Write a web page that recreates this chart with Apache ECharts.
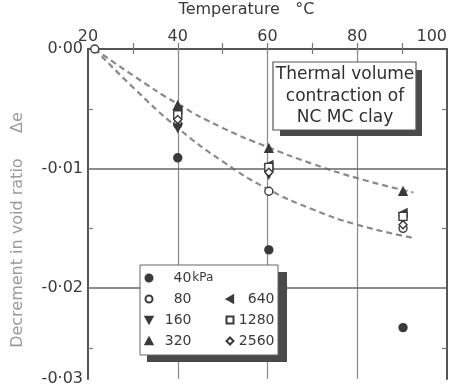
<!DOCTYPE html>
<html>
<head>
<meta charset="utf-8">
<script src="https://cdn.jsdelivr.net/npm/echarts@6/dist/echarts.min.js"></script>
<style>
html,body{margin:0;padding:0;background:#fff;}
#c{width:453px;height:387px;}
</style>
</head>
<body>
<div id="c"></div>
<script>
// ---- data ----
const pressures = ['40', '80', '160', '320', '640', '1280', '2560'];
const temps = [40, 60.3, 90.2];
const de40 = [-0.0091, -0.0168, -0.0233];
const de80 = [-0.0063, -0.0119, -0.0150];
const de160 = [-0.0066, -0.0105, -0.0143];
const de320 = [-0.0047, -0.0083, -0.0119];
const de640 = [-0.0051, -0.0097, -0.0137];
const de1280 = [-0.0055, -0.0099, -0.0140];
const de2560 = [-0.0059, -0.0103, -0.0147];
const originT = 21.5, originDe = 0;
// dashed trend curves
const upperT = [21.5, 30, 40, 50, 60, 70, 80, 92.5];
const upperDe = [0, -0.0022, -0.0046, -0.0066, -0.0082, -0.0096, -0.0108, -0.0120];
const lowerT = [21.5, 30, 40, 50, 60, 70, 80, 92.5];
const lowerDe = [0, -0.0032, -0.0066, -0.0094, -0.0117, -0.0134, -0.0147, -0.0158];
// tick labels
const xMinorTicks = [30, 40, 50, 60, 70, 80, 90];
const yTickValues = [0, -0.01, -0.02, -0.0276];
const yTickLabels = ['0·00', '-0·01', '-0·02', '-0·03'];
const yMinorTicks = [-0.005, -0.015, -0.025];
const xGrid = [40, 60, 80];
const yGrid = [-0.01, -0.02];

const FONT = 'DejaVu Sans';
const DARK = '#3a3a3a';
const FRAME = '#555';

function zip(xs, ys) { return xs.map((x, i) => [x, ys[i]]); }

const symbols = {
  '40': {symbol: 'circle', rotate: 0, fill: DARK, icon: 'circle'},
  '80': {symbol: 'circle', rotate: 0, fill: '#fff', icon: 'circle'},
  '160': {symbol: 'triangle', rotate: 180, fill: DARK, icon: 'path://M0,0 L10,0 L5,9 Z'},
  '320': {symbol: 'triangle', rotate: 0, fill: DARK, icon: 'path://M5,0 L10,9 L0,9 Z'},
  '640': {symbol: 'triangle', rotate: 90, fill: DARK, icon: 'path://M0,5 L9,0 L9,10 Z'},
  '1280': {symbol: 'rect', rotate: 0, fill: '#fff', icon: 'rect'},
  '2560': {symbol: 'diamond', rotate: 0, fill: '#fff', icon: 'diamond'}
};
const seriesVals = {'40': de40, '80': de80, '160': de160, '320': de320, '640': de640, '1280': de1280, '2560': de2560};

const chart = echarts.init(document.getElementById('c'), null, {renderer: 'canvas'});

const scatterSeries = pressures.map(p => {
  const s = symbols[p];
  let data = zip(temps, seriesVals[p]);
  if (p === '80') data = [[originT, originDe]].concat(data);
  return {
    name: p,
    type: 'scatter',
    xAxisIndex: 0, yAxisIndex: 0,
    data: data,
    symbol: s.symbol,
    symbolRotate: s.rotate,
    symbolSize: 8,
    itemStyle: {color: s.fill, borderColor: DARK, borderWidth: 1.4, opacity: 1},
    z: 5
  };
});

function legendData(list) {
  return list.map(p => ({name: p, icon: symbols[p].icon}));
}

const option = {
  backgroundColor: '#fff',
  animation: false,
  grid: {left: 88, right: 6, top: 49, bottom: 8, show: false, outerBoundsMode: 'none', containLabel: false},
  xAxis: [{
    type: 'value', position: 'top', min: 20, max: 100, interval: 20,
    name: 'Temperature   °C', nameLocation: 'middle', nameGap: 31,
    nameTextStyle: {fontFamily: FONT, fontSize: 16, color: DARK, padding: [0, 42, 0, 0]},
    axisLine: {show: true, lineStyle: {color: FRAME, width: 2}},
    axisTick: {show: true, inside: true, length: 5, customValues: xMinorTicks, lineStyle: {color: '#777', width: 1.2}},
    axisLabel: {fontFamily: FONT, fontSize: 16, color: DARK, margin: 4, alignMaxLabel: 'right'},
    splitLine: {show: false}
  }, {
    type: 'value', position: 'bottom', min: 20, max: 100, interval: 20,
    axisLine: {show: true, lineStyle: {color: FRAME, width: 2}},
    axisTick: {show: true, inside: true, length: 6, customValues: xMinorTicks, lineStyle: {color: '#777', width: 1.2}},
    axisLabel: {show: false},
    splitLine: {show: false}
  }],
  yAxis: [{
    type: 'value', position: 'left', min: -0.0276, max: 0,
    name: 'Decrement in void ratio     Δe', nameLocation: 'middle', nameGap: 62, nameRotate: 90,
    nameTextStyle: {fontFamily: FONT, fontSize: 16, color: '#9a9a9a', padding: [0, 32, 0, 0]},
    axisLine: {show: true, lineStyle: {color: FRAME, width: 2}},
    axisTick: {show: true, inside: true, length: 5, customValues: yMinorTicks, lineStyle: {color: '#777', width: 1.2}},
    axisLabel: {
      fontFamily: FONT, fontSize: 16, color: DARK, margin: 5,
      customValues: yTickValues,
      formatter: function (v) {
        for (let i = 0; i < yTickValues.length; i++) {
          if (Math.abs(v - yTickValues[i]) < 1e-6) return yTickLabels[i];
        }
        return '';
      }
    },
    splitLine: {show: false}
  }, {
    type: 'value', position: 'right', min: -0.0276, max: 0,
    axisLine: {show: true, lineStyle: {color: FRAME, width: 2}},
    axisTick: {show: true, inside: true, length: 5, customValues: yMinorTicks, lineStyle: {color: '#777', width: 1.2}},
    axisLabel: {show: false},
    splitLine: {show: false}
  }],
  legend: [{
    data: legendData(['40', '80', '160', '320']),
    orient: 'vertical', left: 144.5, top: 270, padding: 0,
    itemWidth: 7, itemHeight: 7, itemGap: 5,
    formatter: function (n) { return n === '40' ? '{c|40}{b|kPa}' : '{a|' + n + '}'; },
    textStyle: {
      fontFamily: FONT, fontSize: 14, color: DARK, lineHeight: 16,
      rich: {a: {fontFamily: FONT, fontSize: 14, color: DARK, width: 34, align: 'right', lineHeight: 16},
             c: {fontFamily: FONT, fontSize: 14, color: DARK, lineHeight: 16, padding: [0, 1, 0, 16]},
             b: {fontFamily: FONT, fontSize: 12, color: DARK, lineHeight: 16}}
    },
    selectedMode: false, z: 10
  }, {
    data: legendData(['640', '1280', '2560']),
    orient: 'vertical', left: 225.5, top: 291, padding: 0,
    itemWidth: 7, itemHeight: 7, itemGap: 5,
    formatter: function (n) { return '{a|' + n + '}'; },
    textStyle: {
      fontFamily: FONT, fontSize: 14, color: DARK, lineHeight: 16,
      rich: {a: {fontFamily: FONT, fontSize: 14, color: DARK, width: 36, align: 'right', lineHeight: 16}}
    },
    selectedMode: false, z: 10
  }],
  graphic: [
    // legend box
    {type: 'rect', shape: {x: 147, y: 272, width: 140, height: 90}, style: {fill: '#4a4a4a'}, z: 8},
    {type: 'rect', shape: {x: 140, y: 265, width: 138, height: 90}, style: {fill: '#fff', stroke: '#666', lineWidth: 1}, z: 8},
    // annotation box
    {type: 'rect', shape: {x: 280, y: 70, width: 142, height: 66}, style: {fill: '#4a4a4a'}, z: 8},
    {type: 'rect', shape: {x: 273, y: 62, width: 143, height: 68}, style: {fill: '#fff', stroke: '#555', lineWidth: 1.2}, z: 8},
    {type: 'text', x: 345, y: 64, z: 9,
      style: {text: 'Thermal volume\ncontraction of\nNC MC clay', fontFamily: FONT, fontSize: 17, lineHeight: 21.5,
        fill: '#2f2f2f', align: 'center', verticalAlign: 'top'}}
  ],
  series: [
    {
      name: 'grid', type: 'scatter', data: [], silent: true, z: 1,
      markLine: {
        silent: true, symbol: 'none', label: {show: false}, animation: false,
        data: xGrid.map(v => ({xAxis: v, lineStyle: {color: '#8a8a8a', type: 'solid', width: 1.2}}))
          .concat(yGrid.map(v => ({yAxis: v, lineStyle: {color: '#666', type: 'solid', width: 1.5}})))
      }
    },
    {
      name: 'upper', type: 'line', data: zip(upperT, upperDe), smooth: true, showSymbol: false, symbol: 'none',
      lineStyle: {color: '#8a8a8a', width: 2.2, type: [6, 4]}, z: 3, silent: true
    },
    {
      name: 'lower', type: 'line', data: zip(lowerT, lowerDe), smooth: true, showSymbol: false, symbol: 'none',
      lineStyle: {color: '#8a8a8a', width: 2.2, type: [6, 4]}, z: 3, silent: true
    }
  ].concat(scatterSeries)
};
chart.setOption(option);
</script>
</body>
</html>
